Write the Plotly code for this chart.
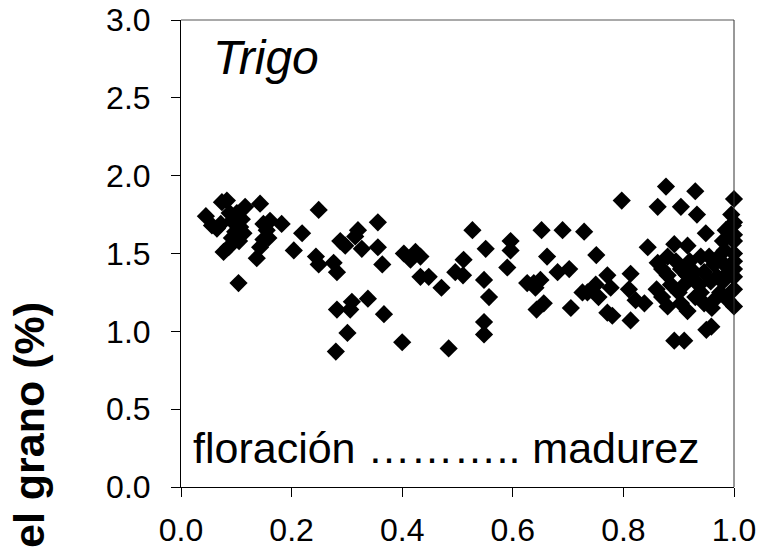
import plotly.graph_objects as go

# Relative time between flowering (0) and maturity (1)
x_vals = [
    0.045, 0.056, 0.072, 0.074, 0.083, 0.077, 0.086, 0.092, 0.098, 0.107, 0.113, 0.116, 0.101, 0.092,
    0.104, 0.143, 0.149, 0.155, 0.161, 0.182, 0.149, 0.143, 0.137, 0.158, 0.219, 0.204, 0.088, 0.105,
    0.065, 0.110,
    0.249, 0.244, 0.249, 0.276, 0.282, 0.288, 0.297, 0.315, 0.320, 0.327, 0.356, 0.356, 0.364,
    0.282, 0.309, 0.306, 0.338, 0.367, 0.301, 0.280,
    0.403, 0.424, 0.415, 0.433, 0.433, 0.448, 0.471, 0.400, 0.484,
    0.496, 0.510, 0.511, 0.527, 0.551, 0.548, 0.557, 0.548, 0.548, 0.596, 0.596, 0.590,
    0.652, 0.690, 0.729, 0.662, 0.681, 0.702, 0.626, 0.650, 0.641, 0.656, 0.643, 0.705, 0.726, 0.638,
    0.797, 0.862, 0.751, 0.844, 0.771, 0.750, 0.777, 0.755, 0.813, 0.810, 0.838, 0.822, 0.771, 0.780,
    0.813, 0.735,
    0.877, 0.930, 0.904, 0.933, 1.000, 0.995, 0.998, 0.949, 0.980, 1.000, 1.000, 0.983, 1.000, 0.892,
    0.916, 0.955, 0.880, 0.964, 0.946, 0.928, 0.904, 0.880, 0.860, 0.886, 0.910, 0.937, 0.958, 0.980,
    1.000, 1.000, 0.989, 0.880, 0.904, 0.916, 0.946, 0.964, 0.959, 0.950, 0.892, 0.910, 0.862,
    0.870, 0.895, 0.920, 0.930, 0.970, 0.985, 0.990, 1.000, 1.000, 0.940, 0.975, 0.960, 0.870, 0.900,
    0.915, 0.985, 1.000, 1.000, 0.970, 0.940, 0.930,
]

# Grain concentration (%)
y_vals = [
    1.74, 1.68, 1.69, 1.83, 1.84, 1.51, 1.54, 1.60, 1.64, 1.67, 1.63, 1.80, 1.76, 1.71,
    1.31, 1.82, 1.69, 1.65, 1.71, 1.69, 1.59, 1.54, 1.47, 1.60, 1.63, 1.52, 1.76, 1.58,
    1.66, 1.72,
    1.78, 1.48, 1.43, 1.44, 1.38, 1.58, 1.55, 1.61, 1.65, 1.53, 1.70, 1.54, 1.43,
    1.14, 1.19, 1.14, 1.21, 1.11, 0.99, 0.87,
    1.50, 1.51, 1.46, 1.48, 1.35, 1.35, 1.28, 0.93, 0.89,
    1.38, 1.36, 1.46, 1.65, 1.53, 1.33, 1.22, 1.06, 0.98, 1.58, 1.52, 1.41,
    1.65, 1.65, 1.64, 1.48, 1.38, 1.40, 1.31, 1.33, 1.28, 1.18, 1.14, 1.15, 1.25, 1.31,
    1.84, 1.80, 1.49, 1.54, 1.36, 1.30, 1.28, 1.22, 1.37, 1.27, 1.18, 1.20, 1.12, 1.10,
    1.07, 1.25,
    1.93, 1.90, 1.80, 1.75, 1.85, 1.75, 1.68, 1.63, 1.58, 1.58, 1.50, 1.52, 1.45, 1.56,
    1.55, 1.48, 1.48, 1.43, 1.38, 1.38, 1.40, 1.36, 1.27, 1.30, 1.30, 1.30, 1.32, 1.32,
    1.27, 1.16, 1.20, 1.16, 1.18, 1.13, 1.18, 1.20, 1.03, 1.01, 0.94, 0.94, 1.44,
    1.40, 1.45, 1.45, 1.22, 1.35, 1.42, 1.38, 1.35, 1.40, 1.25, 1.25, 1.15, 1.22, 1.25,
    1.36, 1.65, 1.62, 1.70, 1.47, 1.48, 1.32,
]

x_ticks = [0.0, 0.2, 0.4, 0.6, 0.8, 1.0]
y_ticks = [0.0, 0.5, 1.0, 1.5, 2.0, 2.5, 3.0]

FONT = "Liberation Sans, Arial, sans-serif"

fig = go.Figure()
fig.add_trace(go.Scatter(
    x=x_vals, y=y_vals, mode="markers",
    marker=dict(symbol="diamond", size=14, color="black", line=dict(width=0)),
    cliponaxis=False, showlegend=False,
))

L, R, T, B = 181, 28, 20, 65
W, H = 762, 552
pw, ph = W - L - R, H - T - B

fig.update_layout(
    width=W, height=H,
    margin=dict(l=L, r=R, t=T, b=B, pad=0, autoexpand=False),
    paper_bgcolor="white", plot_bgcolor="white",
    font=dict(family=FONT, color="black", size=32),
    xaxis=dict(range=[0, 1], tickvals=x_ticks, ticktext=[f"{v:.1f}" for v in x_ticks],
               automargin=False,
               showgrid=False, zeroline=False, showline=True, linecolor="black", linewidth=1,
               ticks="outside", ticklen=9, tickcolor="black", tickwidth=1,
               ticklabelstandoff=6, tickfont=dict(size=32, family=FONT)),
    yaxis=dict(range=[0, 3], tickvals=y_ticks, ticktext=[f"{v:.1f}" for v in y_ticks],
               automargin=False,
               showgrid=False, zeroline=False, showline=True, linecolor="black", linewidth=1,
               ticks="outside", ticklen=9, tickcolor="black", tickwidth=1,
               ticklabelstandoff=14, tickfont=dict(size=32, family=FONT)),
    shapes=[
        dict(type="line", xref="paper", yref="paper", x0=0, x1=1, y0=1, y1=1,
             line=dict(color="#555555", width=1)),
        dict(type="line", xref="paper", yref="paper", x0=1, x1=1, y0=0, y1=1,
             line=dict(color="#333333", width=1)),
    ],
    annotations=[
        dict(text="<i>Trigo</i>", xref="paper", yref="paper",
             x=(211 - L) / pw, y=(H - B - 57) / ph, xanchor="left", yanchor="middle",
             showarrow=False, font=dict(size=48, family=FONT)),
        dict(text="floración ……….. madurez", xref="paper", yref="paper",
             x=(191 - L) / pw, y=(H - B - 448) / ph, xanchor="left", yanchor="middle",
             showarrow=False, font=dict(size=43, family=FONT)),
        dict(text="<b>el grano (%)</b>", xref="paper", yref="paper",
             x=(29 - L) / pw, y=(H - B - 425) / ph, xanchor="center", yanchor="middle",
             textangle=-90, showarrow=False, font=dict(size=43, family=FONT)),
    ],
)

fig.write_html("out.html")
